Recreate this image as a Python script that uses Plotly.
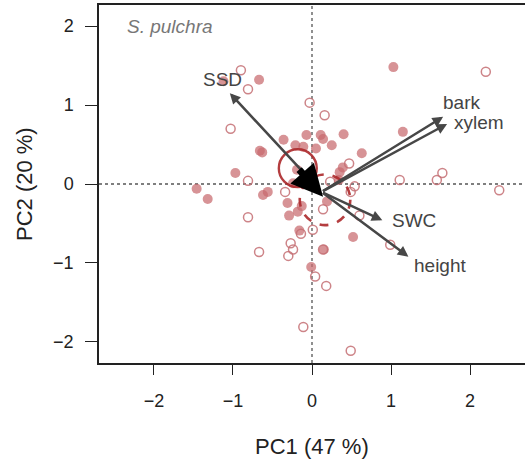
import plotly.graph_objects as go

# ---- data (PC scores) ----
filled_x = [1.03, -1.12, -0.67, -0.36, -0.07, 0.11, 0.14, 0.40, 0.25, 0.05, -0.11, -0.21,
            0.63, 1.15, -0.66, -0.63, -0.97, -1.46, -1.32, -0.62, -0.56, -0.31, -0.29, -0.18,
            -0.13, -0.16, 0.52, -0.01, 0.34, 0.19, -0.19, 0.35, 0.39, -0.24, 0.15, -0.08]
filled_y = [1.48, 1.30, 1.32, 0.56, 0.62, 0.62, 0.57, 0.63, 0.49, 0.45, 0.47, 0.49,
            0.39, 0.66, 0.42, 0.40, 0.14, -0.06, -0.19, -0.14, -0.10, -0.24, -0.40, -0.35,
            -0.28, -0.59, -0.67, -1.05, 0.05, -0.22, 0.18, 0.15, 0.21, 0.01, -0.83, 0.02]

open_x = [-0.90, -0.81, -0.03, -1.03, 0.16, 0.47, 2.20, 1.11, 1.58, 1.65, 2.37, 0.23,
          0.54, 0.49, 0.14, 0.60, 0.99, 0.14, 0.04, 0.18, -0.11, 0.49, 0.01, -0.81,
          -0.34, -0.81, -0.14, -0.27, -0.24, -0.30, -0.67]
open_y = [1.44, 1.20, 1.03, 0.70, 0.87, 0.26, 1.42, 0.05, 0.05, 0.14, -0.08, 0.03,
          -0.03, -0.10, -0.32, -0.40, -0.77, -0.83, -1.17, -1.29, -1.81, -2.11, -0.58, 0.04,
          -0.10, -0.42, -0.63, -0.75, -0.83, -0.91, -0.86]

# ---- loadings (arrows) ----
var_names = ["SSD", "bark", "xylem", "SWC", "height"]
var_tip_x = [-1.04, 1.66, 1.71, 0.89, 1.22]
var_tip_y = [1.15, 0.85, 0.76, -0.46, -0.92]
var_lab_x = [-1.13, 1.89, 2.11, 1.29, 1.62]
var_lab_y = [1.32, 1.03, 0.78, -0.46, -1.03]
arrow_origin = [0.12, -0.10]

# ---- group centroids ----
centroid_a = [-0.18, 0.20]   # solid circle
radius_a = 0.24
centroid_b = [0.165, -0.20]  # dashed circle
radius_b = 0.32
shift_tip = [0.14, -0.16]

x_ticks = [-2, -1, 0, 1, 2]
y_ticks = [-2, -1, 0, 1, 2]

pt_col = "rgba(200,105,110,0.72)"
ring_col = "rgba(172,40,42,0.9)"
arrow_col = "#474747"

fig = go.Figure()

fig.add_trace(go.Scatter(
    x=filled_x, y=filled_y, mode="markers",
    marker=dict(size=10, color=pt_col, line=dict(width=0)),
    hoverinfo="skip", showlegend=False))
fig.add_trace(go.Scatter(
    x=open_x, y=open_y, mode="markers",
    marker=dict(size=9, color="rgba(255,255,255,0)",
                line=dict(width=1.5, color="rgba(196,110,115,0.85)")),
    hoverinfo="skip", showlegend=False))

shapes = []
# dotted reference lines
shapes.append(dict(type="line", xref="x", yref="paper", x0=0, x1=0, y0=0, y1=1,
                   line=dict(color="#555", width=1.3, dash="dot"), layer="below"))
shapes.append(dict(type="line", xref="paper", yref="y", x0=0, x1=1, y0=0, y1=0,
                   line=dict(color="#555", width=1.3, dash="dot"), layer="below"))
# group circles
shapes.append(dict(type="circle", xref="x", yref="y",
                   x0=centroid_a[0] - radius_a, x1=centroid_a[0] + radius_a,
                   y0=centroid_a[1] - radius_a, y1=centroid_a[1] + radius_a,
                   line=dict(color=ring_col, width=2.4)))
shapes.append(dict(type="circle", xref="x", yref="y",
                   x0=centroid_b[0] - radius_b, x1=centroid_b[0] + radius_b,
                   y0=centroid_b[1] - radius_b, y1=centroid_b[1] + radius_b,
                   line=dict(color=ring_col, width=2.6, dash="9px,9px")))

annotations = []
for name, tx, ty, lx, ly in zip(var_names, var_tip_x, var_tip_y, var_lab_x, var_lab_y):
    annotations.append(dict(x=tx, y=ty, ax=arrow_origin[0], ay=arrow_origin[1],
                            xref="x", yref="y", axref="x", ayref="y", text="",
                            showarrow=True, arrowhead=2, arrowsize=0.85, arrowwidth=2.5,
                            arrowcolor=arrow_col, standoff=0, startstandoff=0))
    annotations.append(dict(x=lx, y=ly, xref="x", yref="y", text=name, showarrow=False,
                            font=dict(family="Liberation Sans, Arial", size=19, color="#444")))
# centroid shift arrow
annotations.append(dict(x=shift_tip[0], y=shift_tip[1], ax=centroid_a[0], ay=centroid_a[1],
                        xref="x", yref="y", axref="x", ayref="y", text="",
                        showarrow=True, arrowhead=2, arrowsize=0.9, arrowwidth=7,
                        arrowcolor="#000", standoff=0))
# species label
annotations.append(dict(x=-2.37, y=1.99, xref="x", yref="y", text="<i>S. pulchra</i>",
                        xanchor="left", showarrow=False,
                        font=dict(family="Liberation Sans, Arial", size=19, color="#777")))
# axis titles
annotations.append(dict(x=0.5, y=-0.2346, xref="paper", yref="paper", text="PC1 (47 %)",
                        showarrow=False, yanchor="middle",
                        font=dict(family="Liberation Sans, Arial", size=22, color="#222")))
annotations.append(dict(x=-0.176, y=0.5, xref="paper", yref="paper", text="PC2 (20 %)",
                        showarrow=False, textangle=-90, xanchor="center", yanchor="middle",
                        font=dict(family="Liberation Sans, Arial", size=22, color="#222")))

fig.update_layout(
    width=525, height=463,
    margin=dict(l=99, r=0, t=5, b=100),
    paper_bgcolor="white", plot_bgcolor="white",
    shapes=shapes, annotations=annotations,
    font=dict(family="Liberation Sans, Arial", color="#222"),
    showlegend=False,
)
fig.update_xaxes(range=[-2.696, 2.696], tickvals=x_ticks,
                 ticktext=[str(v).replace("-", "\u2212") for v in x_ticks],
                 showgrid=False, zeroline=False, showline=True, linecolor="#222",
                 linewidth=1.5, mirror=True, ticks="outside", ticklen=10, tickwidth=1.3,
                 tickcolor="#222", tickfont=dict(size=18, color="#222"),
                 ticklabelstandoff=11)
fig.update_yaxes(range=[-2.266, 2.266], tickvals=y_ticks,
                 ticktext=[str(v).replace("-", "\u2212") for v in y_ticks],
                 showgrid=False, zeroline=False, showline=True, linecolor="#222",
                 linewidth=1.5, ticks="outside", ticklen=12, tickwidth=1.3,
                 tickcolor="#222", tickfont=dict(size=18, color="#222"),
                 ticklabelstandoff=8)

fig.write_html("out.html")
